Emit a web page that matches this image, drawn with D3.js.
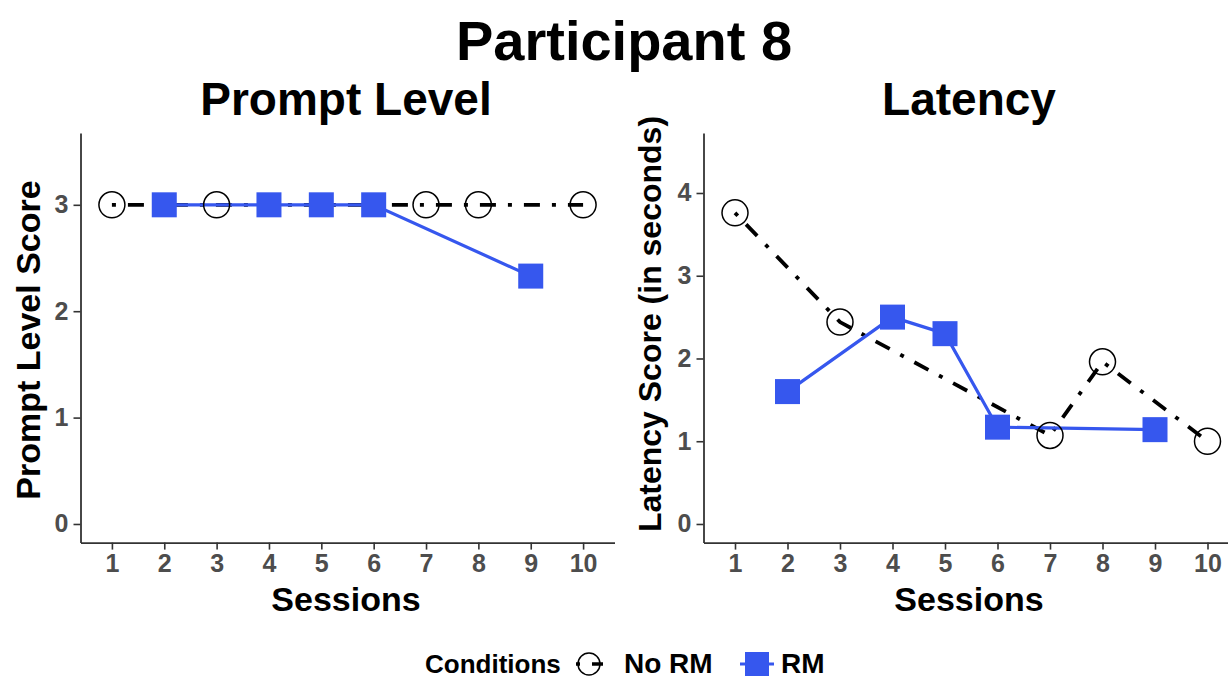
<!DOCTYPE html>
<html>
<head>
<meta charset="utf-8">
<script src="https://cdn.jsdelivr.net/npm/d3@7"></script>
<style>
  body { margin: 0; background: #fff; }
  text { font-family: "Liberation Sans", Arial, sans-serif; font-weight: bold; }
</style>
</head>
<body>
<div id="chart"></div>
<script>
const W = 1228, H = 679;

// Data
const sessions = [1, 2, 3, 4, 5, 6, 7, 8, 9, 10];
const noRmSessions = [1, 3, 7, 8, 10];
const rmSessions = [2, 4, 5, 6, 9];
const promptNoRM = [3, 3, 3, 3, 3];
const promptRM = [3, 3, 3, 3, 2.33];
const latencyNoRM = [3.76, 2.44, 1.07, 1.96, 1.0];
const latencyRM = [1.6, 2.5, 2.3, 1.17, 1.14];
const promptTicks = [0, 1, 2, 3];
const latencyTicks = [0, 1, 2, 3, 4];

const blue = "#3657ee";
const dotdash = "4,12,16,12";

const svg = d3.select("#chart").append("svg")
  .attr("width", W).attr("height", H);

// Main title
svg.append("text")
  .attr("x", 624).attr("y", 60)
  .attr("text-anchor", "middle")
  .style("font-size", "56px")
  .text("Participant 8");

function panel(opts) {
  const x = d3.scaleLinear().domain([0.4, 10.6]).range(opts.xRange);
  const y = d3.scaleLinear().domain(opts.yDomain).range([542.6, opts.yTop]);
  const g = svg.append("g");

  g.append("text")
    .attr("x", opts.titleX).attr("y", 115)
    .attr("text-anchor", "middle")
    .style("font-size", "46px")
    .text(opts.title);

  // axes
  const xAxis = g.append("g")
    .attr("transform", `translate(0,${y.range()[0]})`)
    .call(d3.axisBottom(x).tickValues(sessions).tickFormat(d3.format("d"))
      .tickSize(7).tickPadding(5).tickSizeOuter(0));
  const yAxis = g.append("g")
    .attr("transform", `translate(${opts.xRange[0]},0)`)
    .call(d3.axisLeft(y).tickValues(opts.ticks).tickFormat(d3.format("d"))
      .tickSize(7).tickPadding(5).tickSizeOuter(0));
  [xAxis, yAxis].forEach(a => {
    a.select(".domain").attr("stroke", "#333").attr("stroke-width", 1.8);
    a.selectAll(".tick line").attr("stroke", "#333").attr("stroke-width", 1.6);
    a.selectAll(".tick text")
      .attr("fill", "#4d4d4d")
      .style("font-size", "25px")
      .style("font-family", '"Liberation Sans", Arial, sans-serif')
      .style("font-weight", "bold");
  });

  g.append("text")
    .attr("x", opts.titleX).attr("y", 611)
    .attr("text-anchor", "middle")
    .style("font-size", "34px")
    .text("Sessions");

  g.append("text")
    .attr("transform", `translate(${opts.yLabelX},${opts.yLabelY}) rotate(-90)`)
    .attr("text-anchor", "middle")
    .style("font-size", opts.yLabelSize)
    .text(opts.yLabel);

  const line = d3.line().x(d => x(d[0])).y(d => y(d[1]));
  const noRm = noRmSessions.map((s, i) => [s, opts.noRM[i]]);
  const rm = rmSessions.map((s, i) => [s, opts.rm[i]]);

  g.append("path").datum(noRm)
    .attr("d", line).attr("fill", "none")
    .attr("stroke", "#000").attr("stroke-width", 3.8)
    .attr("stroke-dasharray", dotdash);
  g.append("path").datum(rm)
    .attr("d", line).attr("fill", "none")
    .attr("stroke", blue).attr("stroke-width", 3.2);

  g.selectAll(".c").data(noRm).enter().append("circle")
    .attr("cx", d => x(d[0])).attr("cy", d => y(d[1])).attr("r", 13)
    .attr("fill", "none").attr("stroke", "#000").attr("stroke-width", 1.5);
  g.selectAll(".s").data(rm).enter().append("rect")
    .attr("x", d => x(d[0]) - 12.5).attr("y", d => y(d[1]) - 12.5)
    .attr("width", 25).attr("height", 25).attr("fill", blue);
}

panel({
  xRange: [80.5, 614.5], yDomain: [-0.175, 3.675], yTop: 133,
  ticks: promptTicks, noRM: promptNoRM, rm: promptRM,
  title: "Prompt Level", titleX: 346,
  yLabel: "Prompt Level Score", yLabelX: 40, yLabelY: 340, yLabelSize: "34px"
});
panel({
  xRange: [703.5, 1239], yDomain: [-0.225, 4.725], yTop: 133,
  ticks: latencyTicks, noRM: latencyNoRM, rm: latencyRM,
  title: "Latency", titleX: 969,
  yLabel: "Latency Score (in seconds)", yLabelX: 661, yLabelY: 324, yLabelSize: "32px"
});

// Legend
const lg = svg.append("g");
lg.append("text").attr("x", 425).attr("y", 673).style("font-size", "26px").text("Conditions");
lg.append("line").attr("x1", 576).attr("x2", 603).attr("y1", 664).attr("y2", 664)
  .attr("stroke", "#000").attr("stroke-width", 3.3).attr("stroke-dasharray", dotdash);
lg.append("circle").attr("cx", 589).attr("cy", 664).attr("r", 11)
  .attr("fill", "none").attr("stroke", "#000").attr("stroke-width", 1.5);
lg.append("text").attr("x", 624).attr("y", 673).style("font-size", "28px").text("No RM");
lg.append("line").attr("x1", 740).attr("x2", 774).attr("y1", 664).attr("y2", 664)
  .attr("stroke", blue).attr("stroke-width", 3.2);
lg.append("rect").attr("x", 745).attr("y", 652).attr("width", 24).attr("height", 24).attr("fill", blue);
lg.append("text").attr("x", 781).attr("y", 673).style("font-size", "28px").text("RM");
</script>
</body>
</html>
